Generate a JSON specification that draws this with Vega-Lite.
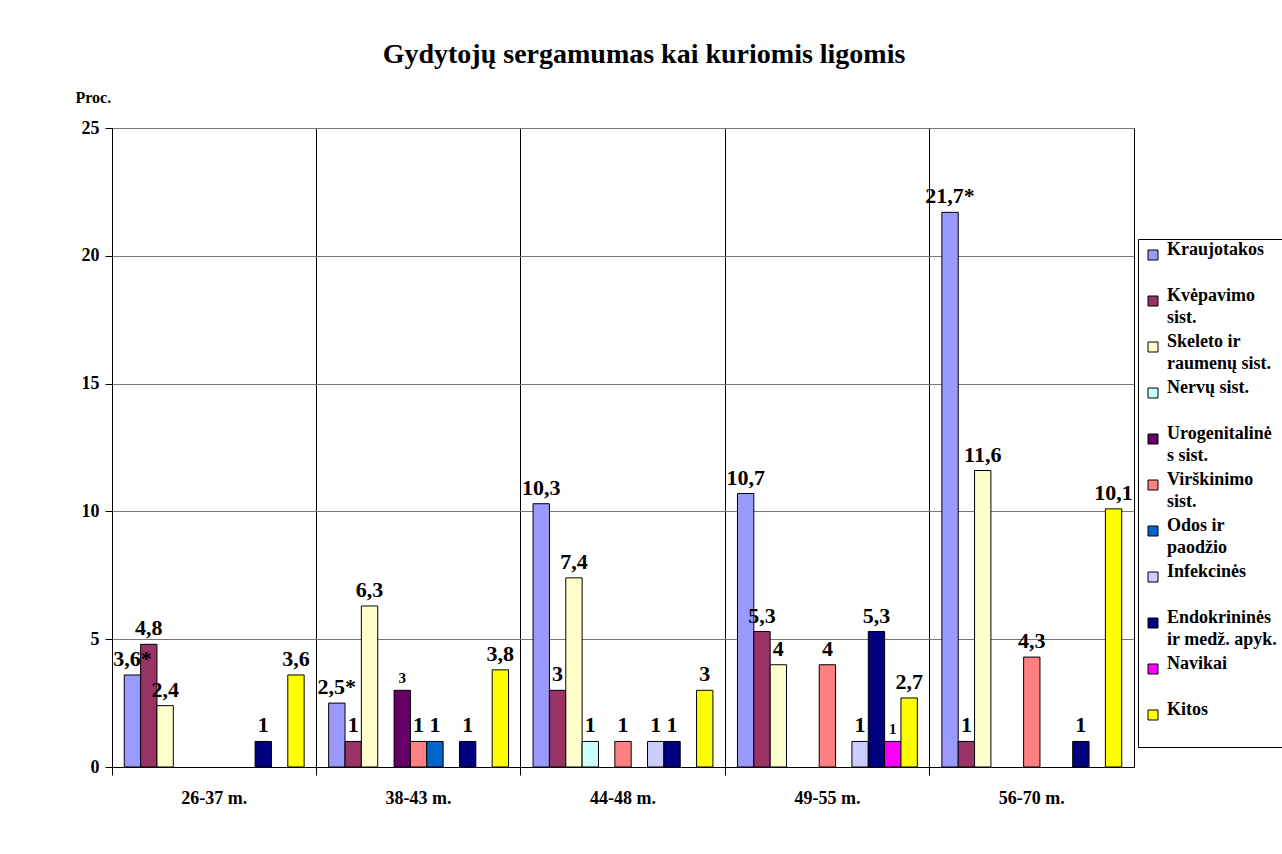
{
  "$schema": "https://vega.github.io/schema/vega-lite/v6.json",
  "width": 1022,
  "height": 639,
  "autosize": {"type": "none"},
  "padding": {"left": 112, "top": 128, "right": 148, "bottom": 87},
  "background": "white",
  "title": {
    "text": "Gydytojų sergamumas kai kuriomis ligomis",
    "font": "Liberation Serif",
    "fontSize": 28,
    "fontWeight": "bold",
    "color": "black",
    "anchor": "middle",
    "frame": "group",
    "dx": 21,
    "offset": 20
  },
  "config": {
    "view": {"stroke": "#000", "strokeWidth": 1},
    "font": "Liberation Serif",
    "style": {"guide-label": {"lineHeight": 22}}
  },
  "data": {
    "values": [
      {"amzius": "26-37 m.", "liga": "Kraujotakos", "proc": 3.6, "zyme": "3,6*"},
      {"amzius": "26-37 m.", "liga": "Kvėpavimo sist.", "proc": 4.8, "zyme": "4,8"},
      {"amzius": "26-37 m.", "liga": "Skeleto ir raumenų sist.", "proc": 2.4, "zyme": "2,4"},
      {"amzius": "26-37 m.", "liga": "Endokrininės ir medž. apyk.", "proc": 1, "zyme": "1"},
      {"amzius": "26-37 m.", "liga": "Kitos", "proc": 3.6, "zyme": "3,6"},
      {"amzius": "38-43 m.", "liga": "Kraujotakos", "proc": 2.5, "zyme": "2,5*"},
      {"amzius": "38-43 m.", "liga": "Kvėpavimo sist.", "proc": 1, "zyme": "1"},
      {"amzius": "38-43 m.", "liga": "Skeleto ir raumenų sist.", "proc": 6.3, "zyme": "6,3"},
      {"amzius": "38-43 m.", "liga": "Urogenitalinės sist.", "proc": 3, "zyme": "3"},
      {"amzius": "38-43 m.", "liga": "Virškinimo sist.", "proc": 1, "zyme": "1"},
      {"amzius": "38-43 m.", "liga": "Odos ir paodžio", "proc": 1, "zyme": "1"},
      {"amzius": "38-43 m.", "liga": "Endokrininės ir medž. apyk.", "proc": 1, "zyme": "1"},
      {"amzius": "38-43 m.", "liga": "Kitos", "proc": 3.8, "zyme": "3,8"},
      {"amzius": "44-48 m.", "liga": "Kraujotakos", "proc": 10.3, "zyme": "10,3"},
      {"amzius": "44-48 m.", "liga": "Kvėpavimo sist.", "proc": 3, "zyme": "3"},
      {"amzius": "44-48 m.", "liga": "Skeleto ir raumenų sist.", "proc": 7.4, "zyme": "7,4"},
      {"amzius": "44-48 m.", "liga": "Nervų sist.", "proc": 1, "zyme": "1"},
      {"amzius": "44-48 m.", "liga": "Virškinimo sist.", "proc": 1, "zyme": "1"},
      {"amzius": "44-48 m.", "liga": "Infekcinės", "proc": 1, "zyme": "1"},
      {"amzius": "44-48 m.", "liga": "Endokrininės ir medž. apyk.", "proc": 1, "zyme": "1"},
      {"amzius": "44-48 m.", "liga": "Kitos", "proc": 3, "zyme": "3"},
      {"amzius": "49-55 m.", "liga": "Kraujotakos", "proc": 10.7, "zyme": "10,7"},
      {"amzius": "49-55 m.", "liga": "Kvėpavimo sist.", "proc": 5.3, "zyme": "5,3"},
      {"amzius": "49-55 m.", "liga": "Skeleto ir raumenų sist.", "proc": 4, "zyme": "4"},
      {"amzius": "49-55 m.", "liga": "Virškinimo sist.", "proc": 4, "zyme": "4"},
      {"amzius": "49-55 m.", "liga": "Infekcinės", "proc": 1, "zyme": "1"},
      {"amzius": "49-55 m.", "liga": "Endokrininės ir medž. apyk.", "proc": 5.3, "zyme": "5,3"},
      {"amzius": "49-55 m.", "liga": "Navikai", "proc": 1, "zyme": "1"},
      {"amzius": "49-55 m.", "liga": "Kitos", "proc": 2.7, "zyme": "2,7"},
      {"amzius": "56-70 m.", "liga": "Kraujotakos", "proc": 21.7, "zyme": "21,7*"},
      {"amzius": "56-70 m.", "liga": "Kvėpavimo sist.", "proc": 1, "zyme": "1"},
      {"amzius": "56-70 m.", "liga": "Skeleto ir raumenų sist.", "proc": 11.6, "zyme": "11,6"},
      {"amzius": "56-70 m.", "liga": "Virškinimo sist.", "proc": 4.3, "zyme": "4,3"},
      {"amzius": "56-70 m.", "liga": "Endokrininės ir medž. apyk.", "proc": 1, "zyme": "1"},
      {"amzius": "56-70 m.", "liga": "Kitos", "proc": 10.1, "zyme": "10,1"}
    ]
  },
  "encoding": {
    "x": {
      "field": "amzius",
      "type": "nominal",
      "sort": ["26-37 m.", "38-43 m.", "44-48 m.", "49-55 m.", "56-70 m."],
      "scale": {"paddingInner": 0, "paddingOuter": 0},
      "axis": {
        "title": null,
        "bandPosition": 0,
        "labelAngle": 0,
        "labelFont": "Liberation Serif",
        "labelFontSize": 18,
        "labelFontWeight": "bold",
        "labelColor": "black",
        "labelPadding": 14,
        "labelBound": false,
        "labelOverlap": false,
        "tickSize": 8,
        "tickColor": "black",
        "domainColor": "black",
        "grid": true,
        "gridColor": "#000",
        "gridOpacity": 1
      }
    },
    "xOffset": {
      "field": "liga",
      "type": "nominal",
      "scale": {
        "domain": ["Kraujotakos", "Kvėpavimo sist.", "Skeleto ir raumenų sist.", "Nervų sist.", "Urogenitalinės sist.", "Virškinimo sist.", "Odos ir paodžio", "Infekcinės", "Endokrininės ir medž. apyk.", "Navikai", "Kitos"],
        "paddingInner": 0,
        "paddingOuter": 0.75
      }
    },
    "y": {
      "field": "proc",
      "type": "quantitative",
      "scale": {"domain": [0, 25], "nice": false},
      "axis": {
        "title": "Proc.",
        "titleAngle": 0,
        "titleX": -37,
        "titleY": -31,
        "titleAlign": "left",
        "titleBaseline": "middle",
        "titleFont": "Liberation Serif",
        "titleFontSize": 16,
        "titleFontWeight": "bold",
        "titleColor": "black",
        "values": [0, 5, 10, 15, 20, 25],
        "tickSize": 7,
        "tickColor": "black",
        "domainColor": "black",
        "labelFont": "Liberation Serif",
        "labelFontSize": 18,
        "labelFontWeight": "bold",
        "labelColor": "black",
        "labelPadding": 6,
        "grid": true,
        "gridColor": "#777",
        "gridOpacity": 1
      }
    }
  },
  "layer": [
    {
      "mark": {"type": "bar", "stroke": "black", "strokeWidth": 1},
      "encoding": {
        "color": {
          "field": "liga",
          "type": "nominal",
          "scale": {
            "domain": ["Kraujotakos", "Kvėpavimo sist.", "Skeleto ir raumenų sist.", "Nervų sist.", "Urogenitalinės sist.", "Virškinimo sist.", "Odos ir paodžio", "Infekcinės", "Endokrininės ir medž. apyk.", "Navikai", "Kitos"],
            "range": ["#9999FF", "#993366", "#FFFFCC", "#CCFFFF", "#660066", "#FF8080", "#0066CC", "#CCCCFF", "#000080", "#FF00FF", "#FFFF00"]
          },
          "legend": {
            "title": null,
            "orient": "none",
            "legendX": 1026,
            "legendY": 111,
            "padding": 6,
            "clipHeight": 20,
            "gridAlign": "all",
            "rowPadding": 6,
            "symbolType": "square",
            "symbolSize": 100,
            "symbolStrokeColor": "black",
            "symbolStrokeWidth": 1,
            "symbolOpacity": 1,
            "labelFont": "Liberation Serif",
            "labelFontSize": 18,
            "labelFontWeight": "bold",
            "labelColor": "black",
            "labelLimit": 0,
            "labelOffset": 5,
            "labelBaseline": "alphabetic",
            "strokeColor": "black",
            "fillColor": "white",
            "labelExpr": "datum.label === 'Kvėpavimo sist.' ? ['Kvėpavimo', 'sist.'] : datum.label === 'Skeleto ir raumenų sist.' ? ['Skeleto ir', 'raumenų sist.'] : datum.label === 'Urogenitalinės sist.' ? ['Urogenitalinė', 's sist.'] : datum.label === 'Virškinimo sist.' ? ['Virškinimo', 'sist.'] : datum.label === 'Odos ir paodžio' ? ['Odos ir', 'paodžio'] : datum.label === 'Endokrininės ir medž. apyk.' ? ['Endokrininės', 'ir medž. apyk.'] : [datum.label, ' ']"
          }
        }
      }
    },
    {
      "mark": {"type": "text", "font": "Liberation Serif", "fontWeight": "bold", "color": "black", "baseline": "bottom", "dy": -4},
      "encoding": {
        "text": {"field": "zyme"},
        "size": {
          "condition": {"test": "datum.liga === 'Urogenitalinės sist.' || datum.liga === 'Navikai'", "value": 15},
          "value": 22
        }
      }
    }
  ]
}
